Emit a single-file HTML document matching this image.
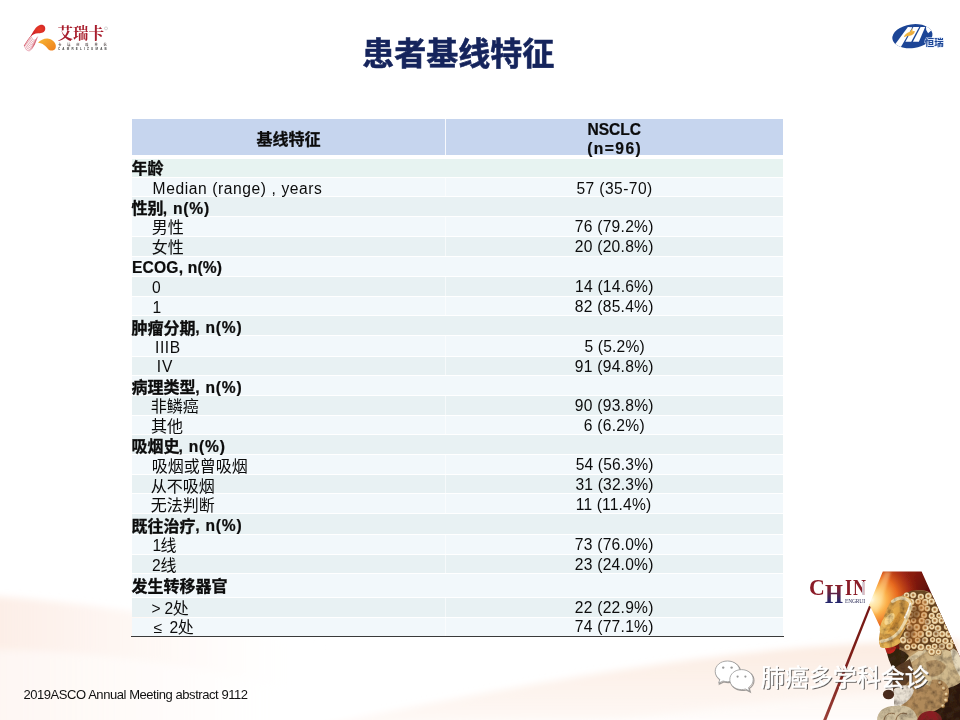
<!DOCTYPE html>
<html lang="zh"><head><meta charset="utf-8"><title>患者基线特征</title><style>
html,body{margin:0;padding:0;background:#fff}
body{width:960px;height:720px;overflow:hidden;position:relative;font-family:"Liberation Sans",sans-serif;color:#0c0c0c}
#slide{position:absolute;left:0;top:0;width:960px;height:720px;overflow:hidden;background:#fff}
.hd{position:absolute;background:#c6d5ee}
.r{position:absolute;left:132px;width:651.3px}
.ra{background:#e8f1f3}
.r0{background:#e7f3f1}
.rb{background:#f2f8fb}
.vd{position:absolute;width:1px;background:rgba(255,255,255,.85)}
.v2{background:rgba(255,255,255,.6)}
.bl{position:absolute;height:1.3px;background:#3a3a3a}
.t{position:absolute;white-space:pre;line-height:20px;height:20px}
.c{font-family:"Liberation Sans","Noto Sans CJK SC",sans-serif;font-size:16px;color:#0c0c0c}
.cb{font-weight:bold;-webkit-text-stroke:.3px}
.abs{position:absolute}
#tl{position:absolute;left:0;top:0;width:960px;height:720px;will-change:transform}
.sf{font-family:"Liberation Serif",serif}
.hh{background:linear-gradient(#86202c 22%,#5a2448 50%,#26286c 80%);-webkit-background-clip:text;background-clip:text;color:transparent}
</style></head><body><div id="slide">
<svg class="abs" style="left:0;top:0" width="960" height="720" viewBox="0 0 960 720">
<defs>
<linearGradient id="bgL" gradientUnits="userSpaceOnUse" x1="0" y1="0" x2="330" y2="0"><stop offset="0" stop-color="#fbe4d8" stop-opacity=".62"/><stop offset=".5" stop-color="#fdeee6" stop-opacity=".38"/><stop offset="1" stop-color="#fff" stop-opacity="0"/></linearGradient>
<linearGradient id="bgR" gradientUnits="userSpaceOnUse" x1="0" y1="640" x2="0" y2="720"><stop offset="0" stop-color="#fae2d3" stop-opacity=".72"/><stop offset="1" stop-color="#fdf1ea" stop-opacity=".5"/></linearGradient>
<linearGradient id="bgR3" gradientUnits="userSpaceOnUse" x1="300" y1="0" x2="620" y2="0"><stop offset="0" stop-color="#fff" stop-opacity="1"/><stop offset="1" stop-color="#fff" stop-opacity="0"/></linearGradient>
<filter id="bgb" x="-5%" y="-5%" width="110%" height="110%"><feGaussianBlur stdDeviation="3.5"/></filter>
<mask id="bgm"><rect x="0" y="0" width="960" height="720" fill="#fff"/><rect x="280" y="600" width="360" height="130" fill="url(#bgR3)"/></mask>
</defs>
<g filter="url(#bgb)">
<path d="M-10 596 C 60 600 160 612 330 650 L 430 730 L -10 730 Z" fill="url(#bgL)"/>
<path d="M-10 650 C 120 650 260 672 420 730 L -10 730 Z" fill="#fff" opacity=".5"/>
<g mask="url(#bgm)"><path d="M980 640 C 800 642 640 658 300 730 L 980 730 Z" fill="url(#bgR)"/></g>
<path d="M980 692 C 860 692 720 702 560 730 L 980 730 Z" fill="#fff" opacity=".45"/>
</g>
</svg>
<div id="tl">
<div class="hd" style="left:132px;top:119px;width:651.3px;height:35.8px"></div>
<div class="r r0" style="top:159px;height:17.5px"></div>
<div class="r rb" style="top:177.5px;height:18.5px"></div>
<div class="r ra" style="top:197px;height:19px"></div>
<div class="r rb" style="top:217px;height:19px"></div>
<div class="r ra" style="top:237px;height:19px"></div>
<div class="r rb" style="top:257px;height:18.75px"></div>
<div class="r ra" style="top:276.75px;height:19px"></div>
<div class="r rb" style="top:296.75px;height:18.25px"></div>
<div class="r ra" style="top:316px;height:19px"></div>
<div class="r rb" style="top:336px;height:19.5px"></div>
<div class="r ra" style="top:356.5px;height:18px"></div>
<div class="r rb" style="top:375.5px;height:19.75px"></div>
<div class="r ra" style="top:396.25px;height:18.25px"></div>
<div class="r rb" style="top:415.5px;height:18.25px"></div>
<div class="r ra" style="top:434.75px;height:19px"></div>
<div class="r rb" style="top:454.75px;height:19px"></div>
<div class="r ra" style="top:474.75px;height:18.5px"></div>
<div class="r rb" style="top:494.25px;height:19px"></div>
<div class="r ra" style="top:514.25px;height:19.5px"></div>
<div class="r rb" style="top:534.75px;height:19px"></div>
<div class="r ra" style="top:554.75px;height:17.75px"></div>
<div class="r rb" style="top:573.5px;height:23px"></div>
<div class="r ra" style="top:597.5px;height:19px"></div>
<div class="r rb" style="top:617.5px;height:18px"></div>
<div class="vd" style="left:444.5px;top:119px;height:36px"></div>
<div class="vd v2" style="left:444.5px;top:177px;height:19.5px"></div>
<div class="vd v2" style="left:444.5px;top:216.5px;height:20px"></div>
<div class="vd v2" style="left:444.5px;top:236.5px;height:20px"></div>
<div class="vd v2" style="left:444.5px;top:276.25px;height:20px"></div>
<div class="vd v2" style="left:444.5px;top:296.25px;height:19.25px"></div>
<div class="vd v2" style="left:444.5px;top:335.5px;height:20.5px"></div>
<div class="vd v2" style="left:444.5px;top:356px;height:19px"></div>
<div class="vd v2" style="left:444.5px;top:395.75px;height:19.25px"></div>
<div class="vd v2" style="left:444.5px;top:415px;height:19.25px"></div>
<div class="vd v2" style="left:444.5px;top:454.25px;height:20px"></div>
<div class="vd v2" style="left:444.5px;top:474.25px;height:19.5px"></div>
<div class="vd v2" style="left:444.5px;top:493.75px;height:20px"></div>
<div class="vd v2" style="left:444.5px;top:534.25px;height:20px"></div>
<div class="vd v2" style="left:444.5px;top:554.25px;height:18.75px"></div>
<div class="vd v2" style="left:444.5px;top:597px;height:20px"></div>
<div class="vd v2" style="left:444.5px;top:617px;height:19px"></div>
<div class="bl" style="left:130.5px;top:635.6px;width:653.5px"></div>
<span class="t c cb" style="left:256.6px;top:129.5px;">基线特征</span>
<span class="t " style="left:587.43px;top:120.39px;font-size:15.6px;font-weight:bold;-webkit-text-stroke:.22px;">NSCLC</span>
<span class="t " style="left:587.22px;top:139.14px;font-size:15.6px;font-weight:bold;-webkit-text-stroke:.22px;letter-spacing:1.43px;">(n=96)</span>
<span class="t c cb" style="left:131.6px;top:159.1px;">年龄</span>
<span class="t c cb" style="left:131.6px;top:199.4px;">性别</span>
<span class="t " style="left:162.69px;top:198.99px;font-size:15.6px;font-weight:bold;-webkit-text-stroke:.22px;letter-spacing:0.8px;">, n(%)</span>
<span class="t c cb" style="left:131.6px;top:319px;">肿瘤分期</span>
<span class="t " style="left:195.19px;top:318.49px;font-size:15.6px;font-weight:bold;-webkit-text-stroke:.22px;letter-spacing:0.8px;">, n(%)</span>
<span class="t c cb" style="left:131.6px;top:378.4px;">病理类型</span>
<span class="t " style="left:195.19px;top:377.84px;font-size:15.6px;font-weight:bold;-webkit-text-stroke:.22px;letter-spacing:0.8px;">, n(%)</span>
<span class="t c cb" style="left:131.6px;top:437px;">吸烟史</span>
<span class="t " style="left:178.44px;top:436.59px;font-size:15.6px;font-weight:bold;-webkit-text-stroke:.22px;letter-spacing:0.8px;">, n(%)</span>
<span class="t c cb" style="left:131.6px;top:516.7px;">既往治疗</span>
<span class="t " style="left:195.19px;top:516.09px;font-size:15.6px;font-weight:bold;-webkit-text-stroke:.22px;letter-spacing:0.8px;">, n(%)</span>
<span class="t c cb" style="left:131.6px;top:576.8px;">发生转移器官</span>
<span class="t " style="left:131.96px;top:257.89px;font-size:15.6px;font-weight:bold;-webkit-text-stroke:.22px;letter-spacing:0.19px;">ECOG, n(%)</span>
<span class="t c" style="left:151.8px;top:218px;">男性</span>
<span class="t c" style="left:151.8px;top:238.2px;">女性</span>
<span class="t c" style="left:150.8px;top:397.2px;">非鳞癌</span>
<span class="t c" style="left:150.9px;top:416.9px;">其他</span>
<span class="t c" style="left:151.7px;top:456.9px;">吸烟或曾吸烟</span>
<span class="t c" style="left:150.8px;top:476.5px;">从不吸烟</span>
<span class="t c" style="left:150.8px;top:496.2px;">无法判断</span>
<span class="t c" style="left:160.4px;top:536.2px;">线</span>
<span class="t c" style="left:160.4px;top:555.7px;">线</span>
<span class="t c" style="left:172.7px;top:599px;">处</span>
<span class="t c" style="left:177.7px;top:618.3px;">处</span>
<span class="t " style="left:152.62px;top:179.14px;font-size:15.6px;letter-spacing:0.59px;">Median (range) , years</span>
<span class="t " style="left:151.99px;top:278.39px;font-size:15.6px;">0</span>
<span class="t " style="left:152.41px;top:297.89px;font-size:15.6px;">1</span>
<span class="t " style="left:155.06px;top:338.39px;font-size:15.6px;letter-spacing:0.55px;">IIIB</span>
<span class="t " style="left:156.76px;top:357.39px;font-size:15.6px;letter-spacing:0.87px;">IV</span>
<span class="t " style="left:152.61px;top:536.39px;font-size:15.6px;">1</span>
<span class="t " style="left:151.92px;top:555.89px;font-size:15.6px;">2</span>
<span class="t " style="left:151.43px;top:599.14px;font-size:15.6px;">&gt;</span>
<span class="t " style="left:164.42px;top:599.14px;font-size:15.6px;">2</span>
<span class="t " style="left:153.42px;top:617.89px;font-size:15.6px;">≤</span>
<span class="t " style="left:169.42px;top:617.89px;font-size:15.6px;">2</span>
<span class="t " style="left:576.38px;top:179.14px;font-size:15.6px;letter-spacing:0.43px;">57 (35-70)</span>
<span class="t " style="left:574.7px;top:217.14px;font-size:15.6px;letter-spacing:0.27px;">76 (79.2%)</span>
<span class="t " style="left:574.72px;top:237.39px;font-size:15.6px;letter-spacing:0.27px;">20 (20.8%)</span>
<span class="t " style="left:575.06px;top:277.14px;font-size:15.6px;letter-spacing:0.23px;">14 (14.6%)</span>
<span class="t " style="left:574.82px;top:297.14px;font-size:15.6px;letter-spacing:0.26px;">82 (85.4%)</span>
<span class="t " style="left:584.38px;top:337.14px;font-size:15.6px;letter-spacing:0.2px;">5 (5.2%)</span>
<span class="t " style="left:574.77px;top:357.39px;font-size:15.6px;letter-spacing:0.27px;">91 (94.8%)</span>
<span class="t " style="left:574.77px;top:396.14px;font-size:15.6px;letter-spacing:0.27px;">90 (93.8%)</span>
<span class="t " style="left:583.71px;top:416.14px;font-size:15.6px;letter-spacing:0.29px;">6 (6.2%)</span>
<span class="t " style="left:575.63px;top:455.39px;font-size:15.6px;letter-spacing:0.17px;">54 (56.3%)</span>
<span class="t " style="left:575.41px;top:475.39px;font-size:15.6px;letter-spacing:0.19px;">31 (32.3%)</span>
<span class="t " style="left:575.81px;top:495.39px;font-size:15.6px;letter-spacing:0.15px;">11 (11.4%)</span>
<span class="t " style="left:574.7px;top:535.39px;font-size:15.6px;letter-spacing:0.27px;">73 (76.0%)</span>
<span class="t " style="left:574.72px;top:555.39px;font-size:15.6px;letter-spacing:0.27px;">23 (24.0%)</span>
<span class="t " style="left:574.72px;top:598.39px;font-size:15.6px;letter-spacing:0.27px;">22 (22.9%)</span>
<span class="t " style="left:574.7px;top:617.14px;font-size:15.6px;letter-spacing:0.27px;">74 (77.1%)</span>
<span class="t c" style="left:362.2px;top:34.2px;font-size:32px;line-height:40px;height:40px;font-weight:bold;color:#15245c;-webkit-text-stroke:.6px #15245c;">患者基线特征</span>
<span class="t " style="left:23.45px;top:684.69px;font-size:13px;letter-spacing:-0.44px;color:#111;">2019ASCO Annual Meeting abstract 9112</span>
<svg class="abs" style="left:0;top:0" width="130" height="70" viewBox="0 0 130 70">
<defs>
<linearGradient id="lgo" x1="0" y1="0" x2="1" y2="1"><stop offset="0" stop-color="#f7b734"/><stop offset="1" stop-color="#ef7d1c"/></linearGradient>
<radialGradient id="lgr" cx=".6" cy=".4" r=".7"><stop offset="0" stop-color="#ea3a26"/><stop offset="1" stop-color="#c8202a"/></radialGradient>
<filter id="lb" x="-10%" y="-10%" width="120%" height="120%"><feGaussianBlur stdDeviation=".35"/></filter>
</defs>
<g filter="url(#lb)">
<g fill="none" stroke="#c62a40" stroke-width=".42" opacity=".9"><path d="M24.1 45.8 Q28.8 57.05 34.7 44.1"/><path d="M25.09 44.43 Q29.51 55.24 35.14 43.03"/><path d="M26.07 43.06 Q30.23 53.44 35.59 41.96"/><path d="M27.06 41.69 Q30.94 51.63 36.03 40.89"/><path d="M28.04 40.31 Q31.66 49.82 36.47 39.81"/><path d="M29.03 38.94 Q32.37 48.01 36.91 38.74"/><path d="M30.01 37.57 Q33.09 46.21 37.36 37.67"/><path d="M31 36.2 Q33.8 44.4 37.8 36.6"/></g>
<path d="M24.2 46 C 26.5 42 29.5 37.5 33 33.5" fill="none" stroke="#c8283c" stroke-width=".7"/>
<path d="M30.6 36.6 C 33 32 35.5 26.5 40 25 C 43.5 24 45.8 26.5 45.2 29.5 C 44.6 32.6 41 33.4 38.2 33.2 C 35 33.2 32.6 34.8 30.6 36.6 Z" fill="url(#lgr)"/>
<path d="M38 42.8 C 41 39.5 46 37.6 50.5 39.2 C 54.5 40.8 57 45 55.4 48.4 C 54 51 50 51.2 48 49 C 45.5 46 43 43.2 38 42.8 Z" fill="url(#lgo)"/>
<text x="57.6" y="39.4" font-size="15.5" font-weight="bold" font-family="&quot;Liberation Serif&quot;,&quot;Noto Serif CJK SC&quot;,serif" fill="#a81f2d">艾瑞卡</text>
<g transform="translate(58.25 45.75) scale(.25)"><text x="0" y="0" font-size="12.4" font-weight="bold" letter-spacing="23.76" font-family="&quot;Liberation Sans&quot;,&quot;Noto Sans CJK SC&quot;,sans-serif" fill="#5e5454">卡瑞利珠单抗</text></g>
<circle cx="106" cy="28.4" r="1.5" fill="none" stroke="#999" stroke-width=".4"/>
</g>
</svg>
<span class="t" style="left:58px;top:46.9px;font-size:12px;line-height:12px;height:12px;font-weight:bold;letter-spacing:8.8px;color:#444;transform:scale(.25);transform-origin:0 0">CAMRELIZUMAB</span>
<svg class="abs" style="left:880px;top:10px" width="80" height="50" viewBox="880 10 80 50">
<defs><filter id="hb" x="-10%" y="-10%" width="120%" height="120%"><feGaussianBlur stdDeviation=".32"/></filter>
<linearGradient id="hy" x1="0" y1="0" x2="1" y2="1"><stop offset="0" stop-color="#f6cf4e"/><stop offset="1" stop-color="#e89a34"/></linearGradient><clipPath id="hcl"><ellipse cx="912.4" cy="36.2" rx="20.2" ry="11.9" transform="rotate(-8 912.4 36.2)"/></clipPath></defs>
<g filter="url(#hb)">
<g clip-path="url(#hcl)">
<rect x="885" y="18" width="52" height="40" fill="#1c4596"/>
<path d="M907.9 27.1 L912.4 27.2 L900.6 47.5 L893.5 46.5 Z" fill="#fff"/>
<path d="M913.4 27.1 L919.2 27.1 L911.2 41.7 L905.4 41.7 Z" fill="#fff"/>
<path d="M920.6 27.1 L925.2 26.9 L918.9 41.7 L912.9 41.7 Z" fill="#fff"/>
<path d="M925.6 20 L950 20 L950 40 L934.2 38 L933.4 34 L931.2 30.4 L928.1 33.2 L926.2 30 Z" fill="#fff"/>
<path d="M934 36 L950 36 L950 52 L926 52 L930 47 Z" fill="#fff"/>
</g>
<path d="M903.8 37.2 C 904.6 34.6 907.2 32.6 910 31.8 L 912.4 28.2 L 912.6 31.4 C 913.4 31.2 914.2 31 914.8 31.2 C 914.6 33.6 912.4 35.2 909.6 35.8 C 907.6 36.2 905.6 36.4 903.8 37.2 Z" fill="url(#hy)"/>
<text x="924.8" y="46" font-size="9.4" font-weight="bold" font-family="&quot;Liberation Sans&quot;,&quot;Noto Sans CJK SC&quot;,sans-serif" fill="#1c4596" stroke="#dfe9fb" stroke-width="1" paint-order="stroke" stroke-linejoin="round">恒瑞</text>
</g>
</svg>
<svg class="abs" style="left:800px;top:560px" width="160" height="160" viewBox="800 560 160 160">
<defs>
<clipPath id="atop"><path d="M882.8 571.6 L921.6 571.6 L961.6 660.5 L961 721 L925 721 L870.4 606.8 L868.9 605.6 Z"/></clipPath>
<clipPath id="aout"><path d="M800 560 L916.4 560 L921.6 571.6 L961.6 660.5 L961 721 L800 721 Z"/></clipPath>
<radialGradient id="glow" gradientUnits="userSpaceOnUse" cx="872" cy="600" r="50"><stop offset="0" stop-color="#fffbe8"/><stop offset=".12" stop-color="#ffe9a8"/><stop offset=".3" stop-color="#fbb04a"/><stop offset=".52" stop-color="#e86a20"/><stop offset=".78" stop-color="#b03214" stop-opacity=".7"/><stop offset="1" stop-color="#7c1810" stop-opacity="0"/></radialGradient>
<linearGradient id="redbg" gradientUnits="userSpaceOnUse" x1="884" y1="575" x2="930" y2="596"><stop offset="0" stop-color="#a62a14"/><stop offset=".5" stop-color="#8a1b10"/><stop offset="1" stop-color="#560e09"/></linearGradient>
<radialGradient id="cu" cx=".47" cy=".45" r=".6"><stop offset="0" stop-color="#8a5a2c"/><stop offset=".22" stop-color="#b98a52"/><stop offset=".5" stop-color="#f3e3bd"/><stop offset=".72" stop-color="#d8b782"/><stop offset=".92" stop-color="#7a5028"/><stop offset="1" stop-color="#5a3818"/></radialGradient><radialGradient id="cu2" cx=".4" cy=".36" r=".66"><stop offset="0" stop-color="#f6e6c0"/><stop offset=".4" stop-color="#dcb984"/><stop offset=".75" stop-color="#9a6e3e"/><stop offset="1" stop-color="#5c3a1c"/></radialGradient>
<linearGradient id="face" gradientUnits="userSpaceOnUse" x1="884" y1="600" x2="908" y2="640"><stop offset="0" stop-color="#f6d483"/><stop offset=".45" stop-color="#e7ae4c"/><stop offset="1" stop-color="#b47a30"/></linearGradient>
<linearGradient id="body" gradientUnits="userSpaceOnUse" x1="905" y1="655" x2="960" y2="690"><stop offset="0" stop-color="#b89462"/><stop offset=".5" stop-color="#d6c094"/><stop offset="1" stop-color="#c7ad80"/></linearGradient>
<linearGradient id="lineg" gradientUnits="userSpaceOnUse" x1="870" y1="605" x2="824" y2="720"><stop offset="0" stop-color="#761712"/><stop offset=".6" stop-color="#80221c"/><stop offset="1" stop-color="#9a4038"/></linearGradient>
<filter id="b1" x="-10%" y="-10%" width="120%" height="120%"><feGaussianBlur stdDeviation="1"/></filter>
<filter id="b05" x="-10%" y="-10%" width="120%" height="120%"><feGaussianBlur stdDeviation=".55"/></filter>
<filter id="b07" x="-10%" y="-10%" width="120%" height="120%"><feGaussianBlur stdDeviation=".8"/></filter>
<filter id="ph" x="-10%" y="-10%" width="120%" height="120%"><feGaussianBlur stdDeviation=".75" result="b"/><feTurbulence type="fractalNoise" baseFrequency=".16" numOctaves="3" seed="4" result="n"/><feColorMatrix in="n" type="matrix" values="0 0 0 0 0  0 0 0 0 0  0 0 0 0 0  -1.5 0 0 0 .9" result="na"/><feFlood flood-color="#3e2612"/><feComposite in2="na" operator="in" result="spk"/><feComposite in="spk" in2="b" operator="atop"/></filter>
</defs>
<path d="M869.6 604.2 L871.7 605 L826.4 720 L823.2 720 Z" fill="url(#lineg)" filter="url(#b05)"/>
<g clip-path="url(#atop)" filter="url(#b05)">
<rect x="860" y="565" width="105" height="160" fill="url(#redbg)"/>
<rect x="860" y="565" width="105" height="160" fill="url(#glow)"/>
<path d="M885 572 L891 572 L877 614 L871 607 Z" fill="#ffe0a0" opacity=".4" filter="url(#b1)"/>
</g>
<g clip-path="url(#aout)">
<g filter="url(#ph)">
<!-- base body -->
<path d="M899 598 C 905 592 915 589.5 924 590.5 C 930 591.5 932 594 934 597 L961 655 L961 721 L905 721 L898 692 L894 672 L900 646 Z" fill="#b38c5c"/>
<path d="M904 594 L912 590.5 L924 590.5 L931 594 L935.38 600 L958.78 652 L930 653 L914 651 L899 647 L900 632 L905 618 L910 606 Z" fill="#6a4624"/>
<path d="M934 692 C 944 688 954 678 961 670 L961 721 L925 721 Z" fill="#2a180e"/>
<!-- chest / shoulder -->
<path d="M906 657 C 916 647 936 644 952 652 L961 660 L961 682 C 950 690 940 690 930 686 C 918 682 909 673 906 657 Z" fill="url(#body)"/>
<path d="M950 646 L961 654 L961 678 C 955 670 951 658 950 646 Z" fill="#e6d9bc"/>
<path d="M926 662 C 934 658 942 660 946 666 C 944 674 936 678 928 676 Z" fill="#a07a4c" opacity=".6"/>
<!-- collar -->
<path d="M898 664.5 C 906 660 916 652 924 647.5 L926.5 651.5 C 918 657.5 909 664.5 900 669.5 Z" fill="#e0cca4"/>
<!-- leg -->
<path d="M932 680 C 942 678 950 684 949 694 C 948 706 936 712 920 716 L905 708 C 918 702 928 694 932 680 Z" fill="#b08a5a"/>
<!-- under jaw dark -->
<path d="M886 648 C 894 646 904 650 909 656 C 905 664 898 668 894 671 C 890 664 887 656 886 648 Z" fill="#33200f"/>
<path d="M893 669 C 899 665 906 661 910 659 L914 673 C 908 685 900 690 894 694 C 892 686 892 677 893 669 Z" fill="#5e3f26"/>
<path d="M894 689 C 902 684 910 684 914 690 C 912 700 902 706 894 708 Z" fill="#e9e1d4"/>
<ellipse cx="888.5" cy="694.5" rx="5.6" ry="4.8" fill="#4b2c1a"/>
<path d="M877 721 C 877 710 886 705 896 706 C 906 704 916 708 918 721 Z" fill="#cfbf9e"/>
<path d="M884 720 C 885 714 890 712 895 714 M896 720 C 897 714 902 712 907 714" fill="none" stroke="#8a6a48" stroke-width="1"/>
<path d="M917 721 C 919 712 928 709 936 712 C 940 714 942 717 942 721 Z" fill="#8a1a22"/>
<circle cx="940" cy="683" r="2.3" fill="url(#cu2)"/><circle cx="944" cy="688.5" r="2.3" fill="url(#cu2)"/><circle cx="946.5" cy="694.5" r="2.3" fill="url(#cu2)"/><circle cx="946" cy="700.5" r="2.3" fill="url(#cu2)"/><circle cx="943" cy="706" r="2.2" fill="url(#cu2)"/>
</g>
<g filter="url(#b05)"><circle cx="906.73" cy="595.42" r="3.14" fill="url(#cu)"/><circle cx="913.33" cy="595.36" r="3.38" fill="url(#cu)"/><circle cx="920.91" cy="596.98" r="3.43" fill="url(#cu)"/><circle cx="928.48" cy="596.3" r="3.55" fill="url(#cu)"/><circle cx="911.04" cy="602.37" r="3.81" fill="url(#cu)"/><circle cx="918.22" cy="601.6" r="3.16" fill="url(#cu)"/><circle cx="925.52" cy="602.54" r="3.83" fill="url(#cu)"/><circle cx="931.67" cy="601.75" r="3.53" fill="url(#cu)"/><circle cx="913.97" cy="608.79" r="3.14" fill="url(#cu)"/><circle cx="921.49" cy="608.16" r="3.54" fill="url(#cu)"/><circle cx="927.43" cy="608.74" r="3.16" fill="url(#cu)"/><circle cx="934.91" cy="609.84" r="3.68" fill="url(#cu)"/><circle cx="910.9" cy="614.86" r="3.23" fill="url(#cu)"/><circle cx="916.67" cy="614.38" r="3.48" fill="url(#cu)"/><circle cx="924.19" cy="615.4" r="3.3" fill="url(#cu)"/><circle cx="931.78" cy="616.12" r="3.4" fill="url(#cu)"/><circle cx="939.2" cy="615.93" r="3.13" fill="url(#cu)"/><circle cx="907.58" cy="622.26" r="3.5" fill="url(#cu)"/><circle cx="913.69" cy="620.71" r="3.01" fill="url(#cu)"/><circle cx="921.95" cy="620.98" r="3.59" fill="url(#cu)"/><circle cx="927.71" cy="622.15" r="3.5" fill="url(#cu)"/><circle cx="934.96" cy="620.85" r="3.61" fill="url(#cu)"/><circle cx="941.69" cy="620.96" r="3.46" fill="url(#cu)"/><circle cx="902.71" cy="627.69" r="3.03" fill="url(#cu)"/><circle cx="909.7" cy="627.54" r="3.48" fill="url(#cu)"/><circle cx="916.79" cy="627.52" r="3.75" fill="url(#cu)"/><circle cx="925.66" cy="628.11" r="3.58" fill="url(#cu)"/><circle cx="932.04" cy="627.08" r="3.01" fill="url(#cu)"/><circle cx="938.09" cy="628.62" r="3.59" fill="url(#cu)"/><circle cx="947.15" cy="626.84" r="3.53" fill="url(#cu)"/><circle cx="907.15" cy="634.9" r="3.62" fill="url(#cu)"/><circle cx="914.26" cy="634.69" r="3.78" fill="url(#cu)"/><circle cx="920.73" cy="634.47" r="3.76" fill="url(#cu)"/><circle cx="928.94" cy="633.93" r="3.67" fill="url(#cu)"/><circle cx="936.1" cy="634.25" r="3.52" fill="url(#cu)"/><circle cx="942.31" cy="634.27" r="3.51" fill="url(#cu)"/><circle cx="948.89" cy="634.38" r="3.84" fill="url(#cu)"/><circle cx="903.34" cy="640.28" r="3.71" fill="url(#cu)"/><circle cx="909.52" cy="640.9" r="3" fill="url(#cu)"/><circle cx="917.73" cy="640.36" r="3.18" fill="url(#cu)"/><circle cx="925.1" cy="640.39" r="3.51" fill="url(#cu)"/><circle cx="932.72" cy="639.91" r="2.98" fill="url(#cu)"/><circle cx="938.65" cy="640.76" r="3.15" fill="url(#cu)"/><circle cx="945.56" cy="641.21" r="3.55" fill="url(#cu)"/><circle cx="953.28" cy="641.18" r="3.26" fill="url(#cu)"/><circle cx="907.5" cy="647.46" r="3.31" fill="url(#cu)"/><circle cx="914.02" cy="646.33" r="3.09" fill="url(#cu)"/><circle cx="921.02" cy="647.37" r="3.72" fill="url(#cu)"/><circle cx="928.62" cy="647.6" r="3.22" fill="url(#cu)"/><circle cx="934.71" cy="646.6" r="3.22" fill="url(#cu)"/><circle cx="941.98" cy="646.53" r="3.52" fill="url(#cu)"/><circle cx="949.71" cy="646.33" r="3.71" fill="url(#cu)"/><circle cx="931.78" cy="652.05" r="3.7" fill="url(#cu)"/><circle cx="938.52" cy="652.28" r="3.02" fill="url(#cu)"/></g>
<ellipse cx="917" cy="622" rx="9" ry="24" fill="#c06a22" opacity=".38" filter="url(#b1)" transform="rotate(12 917 622)"/>
<g filter="url(#b1)" fill="#5a3418"><ellipse cx="915" cy="613" rx="4.5" ry="7.5" opacity=".55" transform="rotate(20 915 613)"/><ellipse cx="910" cy="633" rx="4" ry="8" opacity=".45" transform="rotate(15 910 633)"/><ellipse cx="927" cy="622" rx="2.2" ry="3" opacity=".35"/><ellipse cx="936" cy="633" rx="2.4" ry="3" opacity=".35"/><ellipse cx="922" cy="640" rx="3" ry="2.4" opacity=".35"/><ellipse cx="941" cy="646" rx="3" ry="2.4" opacity=".4"/><ellipse cx="930" cy="606" rx="2" ry="2.6" opacity=".3"/></g>
<g filter="url(#ph)">
<!-- face -->
<path d="M891 601 C 896 595.5 905 594.5 910 598.5 C 913.5 602 912.5 609 910 615 C 907 624 903.5 633 898.5 640 C 895 645 888 649.5 881.5 647.5 C 878.5 645 878.6 639 879.6 634 C 881.5 622 885.5 610 891 601 Z" fill="#d8a04a"/>
<ellipse cx="892.3" cy="620.5" rx="17" ry="8.2" transform="rotate(-50 892.3 620.5)" fill="url(#face)"/>
<ellipse cx="889.5" cy="619" rx="7" ry="3.6" transform="rotate(-52 889.5 619)" fill="#fbe2a2" opacity=".75"/>
<path d="M899 612 C 901.5 615 900.5 621 896.5 626.5 C 893.5 630 890 632 887.5 632.5 C 891.5 625.5 895 618.5 899 612 Z" fill="#c07f2c" opacity=".6"/>
<path d="M892.5 601.5 C 897.5 597.2 905.5 597 909.3 601.2 C 911.6 604.6 910.6 609.5 908.6 613.6 C 906.2 619.6 903.2 626.6 898.6 632.2 C 894 637.4 887 640.6 880.8 641.4" fill="none" stroke="#efdbae" stroke-width="3.1" stroke-linecap="round" opacity=".95"/>
<path d="M910.2 603.6 C 909.2 608.4 907 613.4 904.8 617.6" fill="none" stroke="#fffaf0" stroke-width="1.7" stroke-linecap="round"/>
<path d="M884 645.5 C 888 643.5 893 644.5 896 647.5 C 895 652.5 891 654.5 887 653.5 Z" fill="#c2241c"/>
<path d="M879.8 642.5 C 886 644.5 893 643.2 899.4 638.6 L900.6 642.6 C 894 648 885.4 649.4 880.2 647 Z" fill="#e4b252"/>
</g>
</g>
</svg>
<span class="t sf" style="left:809.4px;top:576.4px;font-size:23px;line-height:23px;height:23px;color:#8b1c28;font-weight:bold;transform:scaleX(.95);transform-origin:0 0">C</span>
<span class="t sf hh" style="left:825px;top:580.9px;font-size:26.5px;line-height:26.5px;height:26.5px;font-weight:bold;transform:scaleX(.87);transform-origin:0 0">H</span>
<span class="t sf" style="left:845.2px;top:577.4px;font-size:22.5px;line-height:22.5px;height:22.5px;color:#8b1c28;font-weight:bold;letter-spacing:1.4px;transform:scaleX(.8);transform-origin:0 0">IN</span>
<span class="t sf" style="left:845px;top:598.4px;font-size:20px;line-height:20px;height:20px;color:#34345e;transform:scale(.28);transform-origin:0 0;letter-spacing:-.8px">ENGRUI</span>
<div class="abs" style="left:862.2px;top:582px;width:2.2px;height:13px;background:#d6d0da;opacity:.9"></div>
<svg class="abs" style="left:700px;top:640px" width="260" height="80" viewBox="700 640 260 80">
<defs><filter id="wb" x="-5%" y="-20%" width="110%" height="140%"><feGaussianBlur stdDeviation=".45"/></filter>
<filter id="ws" x="-5%" y="-20%" width="110%" height="140%"><feGaussianBlur stdDeviation=".7"/></filter></defs>
<g filter="url(#ws)" opacity=".78" transform="translate(1.1 1.2)"><text x="760.8" y="685.9" font-size="24" font-family="&quot;Liberation Sans&quot;,&quot;Noto Sans CJK SC&quot;,sans-serif" fill="#3a3a3a">肺癌多学科会诊</text></g>
<g filter="url(#wb)"><text x="760.8" y="685.9" font-size="24" font-family="&quot;Liberation Sans&quot;,&quot;Noto Sans CJK SC&quot;,sans-serif" fill="#fff" stroke="#fff" stroke-width=".5">肺癌多学科会诊</text></g>
<g filter="url(#wb)">
<g transform="translate(.8 .9)" fill="none" stroke="#555" stroke-width="1.1" opacity=".55">
<path d="M727.5 661 C 720.4 661 715.2 665.6 715.2 671.4 C 715.2 674.8 717 677.6 719.8 679.4 L 718.6 683.2 L 723 681 C 724.4 681.4 725.9 681.7 727.5 681.7 C 734.6 681.7 739.8 677.2 739.8 671.4 C 739.8 665.6 734.6 661 727.5 661 Z"/>
<path d="M741.5 669.6 C 734.9 669.6 729.8 674 729.8 679.6 C 729.8 685.2 734.9 689.6 741.5 689.6 C 742.9 689.6 744.3 689.4 745.5 689 L 749.6 691.2 L 748.5 687.6 C 751.4 685.8 753.2 682.9 753.2 679.6 C 753.2 674 748.1 669.6 741.5 669.6 Z"/>
</g>
<path d="M727.5 661 C 720.4 661 715.2 665.6 715.2 671.4 C 715.2 674.8 717 677.6 719.8 679.4 L 718.6 683.2 L 723 681 C 724.4 681.4 725.9 681.7 727.5 681.7 C 734.6 681.7 739.8 677.2 739.8 671.4 C 739.8 665.6 734.6 661 727.5 661 Z" fill="#fff" stroke="#8a8a8a" stroke-width=".7"/>
<path d="M741.5 669.6 C 734.9 669.6 729.8 674 729.8 679.6 C 729.8 685.2 734.9 689.6 741.5 689.6 C 742.9 689.6 744.3 689.4 745.5 689 L 749.6 691.2 L 748.5 687.6 C 751.4 685.8 753.2 682.9 753.2 679.6 C 753.2 674 748.1 669.6 741.5 669.6 Z" fill="#fff" stroke="#8a8a8a" stroke-width=".7"/>
<circle cx="723.2" cy="667.6" r="1.2" fill="#9a9a9a"/><circle cx="731.6" cy="667.6" r="1.2" fill="#9a9a9a"/>
<circle cx="737.6" cy="676.6" r="1.1" fill="#9a9a9a"/><circle cx="745.4" cy="676.6" r="1.1" fill="#9a9a9a"/>
</g>
</svg>
</div>
</div></body></html>
